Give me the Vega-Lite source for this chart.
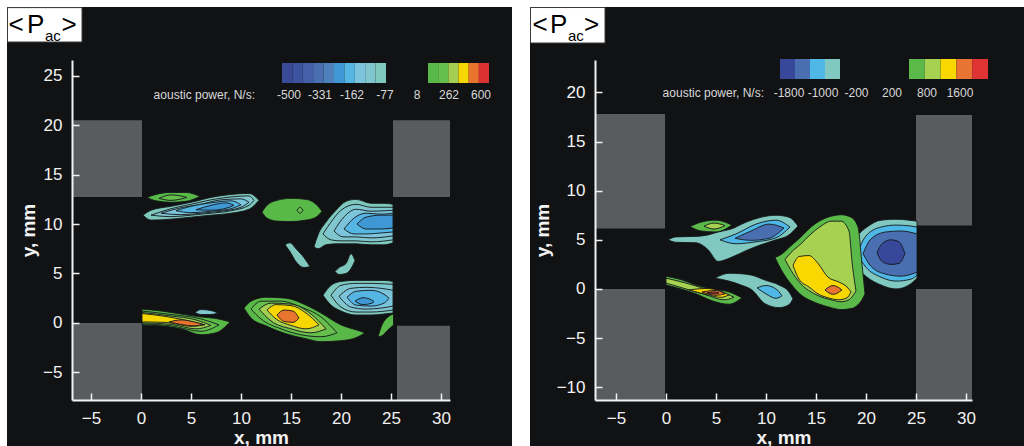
{
"$schema":"https://vega.github.io/schema/vega-lite/v6.json",
"padding":{"left":7,"top":7,"right":0,"bottom":0},
"background":"white",
"datasets":{
"L":[
{"k":"w","x":-8,"x2":0.1,"lo":12.75,"hi":20.5},
{"k":"w","x":-8,"x2":0.1,"lo":-10,"hi":0},
{"k":"w","x":25.2,"x2":32,"lo":12.75,"hi":20.5},
{"k":"w","x":25.6,"x2":32,"lo":-10,"hi":-0.3},
{"k":"c","b":10,"v":50,"x":0.6,"lo":12.7,"hi":12.7},{"k":"c","b":10,"v":50,"x":1.5,"lo":12.35,"hi":13.0},{"k":"c","b":10,"v":50,"x":3,"lo":12.2,"hi":13.2},{"k":"c","b":10,"v":50,"x":4.5,"lo":12.3,"hi":13.2},{"k":"c","b":10,"v":50,"x":5.9,"lo":12.8,"hi":12.8},
{"k":"c","b":11,"v":150,"x":1.8,"lo":12.6,"hi":12.6},{"k":"c","b":11,"v":150,"x":3,"lo":12.4,"hi":12.95},{"k":"c","b":11,"v":150,"x":4.6,"lo":12.7,"hi":12.7},
{"k":"c","b":12,"v":-50,"x":0.2,"lo":10.9,"hi":10.9},{"k":"c","b":12,"v":-50,"x":1,"lo":10.4,"hi":11.4},{"k":"c","b":12,"v":-50,"x":3,"lo":10.5,"hi":11.8},{"k":"c","b":12,"v":-50,"x":5,"lo":10.7,"hi":12.2},{"k":"c","b":12,"v":-50,"x":7,"lo":10.9,"hi":12.7},{"k":"c","b":12,"v":-50,"x":9,"lo":11.1,"hi":13.0},{"k":"c","b":12,"v":-50,"x":10.8,"lo":11.5,"hi":13.1},{"k":"c","b":12,"v":-50,"x":11.8,"lo":12.4,"hi":12.4},
{"k":"c","b":13,"v":-100,"x":1,"lo":10.9,"hi":10.9},{"k":"c","b":13,"v":-100,"x":3,"lo":10.75,"hi":11.55},{"k":"c","b":13,"v":-100,"x":5,"lo":10.9,"hi":12.0},{"k":"c","b":13,"v":-100,"x":7,"lo":11.1,"hi":12.45},{"k":"c","b":13,"v":-100,"x":9,"lo":11.35,"hi":12.75},{"k":"c","b":13,"v":-100,"x":10.8,"lo":11.9,"hi":12.85},{"k":"c","b":13,"v":-100,"x":11.3,"lo":12.4,"hi":12.4},
{"k":"c","b":14,"v":-150,"x":2,"lo":11.1,"hi":11.1},{"k":"c","b":14,"v":-150,"x":4,"lo":10.95,"hi":11.65},{"k":"c","b":14,"v":-150,"x":6,"lo":11.1,"hi":12.0},{"k":"c","b":14,"v":-150,"x":8,"lo":11.3,"hi":12.45},{"k":"c","b":14,"v":-150,"x":10,"lo":11.7,"hi":12.55},{"k":"c","b":14,"v":-150,"x":10.8,"lo":12.2,"hi":12.2},
{"k":"c","b":15,"v":-200,"x":3.5,"lo":11.35,"hi":11.35},{"k":"c","b":15,"v":-200,"x":5,"lo":11.15,"hi":11.8},{"k":"c","b":15,"v":-200,"x":7,"lo":11.3,"hi":12.15},{"k":"c","b":15,"v":-200,"x":9,"lo":11.55,"hi":12.35},{"k":"c","b":15,"v":-200,"x":10,"lo":11.95,"hi":11.95},
{"k":"c","b":16,"v":-250,"x":5.5,"lo":11.45,"hi":11.45},{"k":"c","b":16,"v":-250,"x":7,"lo":11.4,"hi":11.9},{"k":"c","b":16,"v":-250,"x":8.5,"lo":11.6,"hi":12.15},{"k":"c","b":16,"v":-250,"x":9.3,"lo":11.9,"hi":11.9},
{"k":"c","b":17,"v":50,"x":12.1,"lo":11.2,"hi":11.2},{"k":"c","b":17,"v":50,"x":12.6,"lo":10.6,"hi":11.9},{"k":"c","b":17,"v":50,"x":13.6,"lo":10.3,"hi":12.4},{"k":"c","b":17,"v":50,"x":15,"lo":10.25,"hi":12.6},{"k":"c","b":17,"v":50,"x":16.5,"lo":10.4,"hi":12.5},{"k":"c","b":17,"v":50,"x":17.5,"lo":10.7,"hi":12.0},{"k":"c","b":17,"v":50,"x":18.1,"lo":11.3,"hi":11.3},
{"k":"c","b":18,"v":150,"x":15.6,"lo":11.4,"hi":11.4},{"k":"c","b":18,"v":150,"x":15.9,"lo":11.1,"hi":11.7},{"k":"c","b":18,"v":150,"x":16.2,"lo":11.4,"hi":11.4},
{"k":"c","b":19,"v":-50,"x":17.3,"lo":7.7,"hi":7.7},{"k":"c","b":19,"v":-50,"x":17.7,"lo":7.5,"hi":8.9},{"k":"c","b":19,"v":-50,"x":18.5,"lo":7.9,"hi":10.2},{"k":"c","b":19,"v":-50,"x":19.5,"lo":8.0,"hi":11.4},{"k":"c","b":19,"v":-50,"x":20.5,"lo":8.0,"hi":12.3},{"k":"c","b":19,"v":-50,"x":21.5,"lo":8.0,"hi":12.5},{"k":"c","b":19,"v":-50,"x":23,"lo":7.9,"hi":12.1},{"k":"c","b":19,"v":-50,"x":24.3,"lo":7.9,"hi":12.1},{"k":"c","b":19,"v":-50,"x":25.2,"lo":8.1,"hi":12.0},
{"k":"c","b":20,"v":-100,"x":18.2,"lo":9.0,"hi":9.0},{"k":"c","b":20,"v":-100,"x":19,"lo":8.4,"hi":10.2},{"k":"c","b":20,"v":-100,"x":20,"lo":8.3,"hi":11.4},{"k":"c","b":20,"v":-100,"x":21.5,"lo":8.3,"hi":12.0},{"k":"c","b":20,"v":-100,"x":23,"lo":8.2,"hi":11.7},{"k":"c","b":20,"v":-100,"x":25.2,"lo":8.4,"hi":11.7},
{"k":"c","b":21,"v":-150,"x":19.3,"lo":9.3,"hi":9.3},{"k":"c","b":21,"v":-150,"x":20.2,"lo":8.7,"hi":10.6},{"k":"c","b":21,"v":-150,"x":21.5,"lo":8.7,"hi":11.5},{"k":"c","b":21,"v":-150,"x":23,"lo":8.6,"hi":11.3},{"k":"c","b":21,"v":-150,"x":25.2,"lo":8.8,"hi":11.4},
{"k":"c","b":22,"v":-200,"x":20.3,"lo":9.5,"hi":9.5},{"k":"c","b":22,"v":-200,"x":21.3,"lo":9.0,"hi":10.6},{"k":"c","b":22,"v":-200,"x":22.5,"lo":9.0,"hi":11.1},{"k":"c","b":22,"v":-200,"x":24,"lo":9.1,"hi":11.0},{"k":"c","b":22,"v":-200,"x":25.2,"lo":9.2,"hi":11.1},
{"k":"c","b":23,"v":-250,"x":21.6,"lo":10.0,"hi":10.0},{"k":"c","b":23,"v":-250,"x":22.5,"lo":9.5,"hi":10.7},{"k":"c","b":23,"v":-250,"x":24,"lo":9.5,"hi":10.9},{"k":"c","b":23,"v":-250,"x":25.2,"lo":9.6,"hi":10.9},
{"k":"c","b":24,"v":-50,"x":14.4,"lo":7.9,"hi":7.9},{"k":"c","b":24,"v":-50,"x":14.9,"lo":7.2,"hi":8.1},{"k":"c","b":24,"v":-50,"x":15.5,"lo":6.2,"hi":7.5},{"k":"c","b":24,"v":-50,"x":16.3,"lo":5.6,"hi":6.6},{"k":"c","b":24,"v":-50,"x":16.9,"lo":5.7,"hi":5.7},
{"k":"c","b":25,"v":-50,"x":19.4,"lo":5.2,"hi":5.2},{"k":"c","b":25,"v":-50,"x":19.8,"lo":4.9,"hi":5.6},{"k":"c","b":25,"v":-50,"x":20.5,"lo":5.0,"hi":6.0},{"k":"c","b":25,"v":-50,"x":21.0,"lo":5.5,"hi":7.0},{"k":"c","b":25,"v":-50,"x":21.4,"lo":6.3,"hi":6.3},
{"k":"c","b":26,"v":-100,"x":5.4,"lo":1.05,"hi":1.05},{"k":"c","b":26,"v":-100,"x":6,"lo":0.85,"hi":1.35},{"k":"c","b":26,"v":-100,"x":7,"lo":0.85,"hi":1.25},{"k":"c","b":26,"v":-100,"x":7.7,"lo":1.0,"hi":1.0},
{"k":"c","b":27,"v":-50,"x":18.2,"lo":2.8,"hi":2.8},{"k":"c","b":27,"v":-50,"x":19,"lo":1.8,"hi":3.8},{"k":"c","b":27,"v":-50,"x":20,"lo":1.2,"hi":4.2},{"k":"c","b":27,"v":-50,"x":21.5,"lo":0.8,"hi":4.3},{"k":"c","b":27,"v":-50,"x":23,"lo":0.8,"hi":4.3},{"k":"c","b":27,"v":-50,"x":24.3,"lo":0.9,"hi":4.3},{"k":"c","b":27,"v":-50,"x":25.2,"lo":1.0,"hi":4.2},
{"k":"c","b":28,"v":-100,"x":19,"lo":2.8,"hi":2.8},{"k":"c","b":28,"v":-100,"x":20,"lo":1.6,"hi":3.8},{"k":"c","b":28,"v":-100,"x":21.5,"lo":1.1,"hi":4.0},{"k":"c","b":28,"v":-100,"x":23,"lo":1.1,"hi":4.0},{"k":"c","b":28,"v":-100,"x":25.2,"lo":1.3,"hi":3.9},
{"k":"c","b":29,"v":-150,"x":19.8,"lo":2.7,"hi":2.7},{"k":"c","b":29,"v":-150,"x":21,"lo":1.6,"hi":3.5},{"k":"c","b":29,"v":-150,"x":22.5,"lo":1.4,"hi":3.6},{"k":"c","b":29,"v":-150,"x":24,"lo":1.5,"hi":3.5},{"k":"c","b":29,"v":-150,"x":25.2,"lo":1.7,"hi":3.3},
{"k":"c","b":30,"v":-200,"x":20.6,"lo":2.6,"hi":2.6},{"k":"c","b":30,"v":-200,"x":21.5,"lo":1.8,"hi":3.2},{"k":"c","b":30,"v":-200,"x":23,"lo":1.7,"hi":3.3},{"k":"c","b":30,"v":-200,"x":24.3,"lo":2.0,"hi":2.9},{"k":"c","b":30,"v":-200,"x":24.8,"lo":2.5,"hi":2.5},
{"k":"c","b":31,"v":-250,"x":21.4,"lo":2.2,"hi":2.2},{"k":"c","b":31,"v":-250,"x":22.2,"lo":1.85,"hi":2.55},{"k":"c","b":31,"v":-250,"x":23.1,"lo":2.0,"hi":2.3},{"k":"c","b":31,"v":-250,"x":23.3,"lo":2.15,"hi":2.15},
{"k":"c","b":32,"v":50,"x":10.3,"lo":1.5,"hi":1.5},{"k":"c","b":32,"v":50,"x":11,"lo":0.5,"hi":2.2},{"k":"c","b":32,"v":50,"x":12.5,"lo":-0.3,"hi":2.6},{"k":"c","b":32,"v":50,"x":14.5,"lo":-1.1,"hi":2.5},{"k":"c","b":32,"v":50,"x":16.5,"lo":-1.6,"hi":1.8},{"k":"c","b":32,"v":50,"x":18,"lo":-1.9,"hi":1.0},{"k":"c","b":32,"v":50,"x":20,"lo":-1.8,"hi":-0.2},{"k":"c","b":32,"v":50,"x":21.5,"lo":-1.5,"hi":-0.7},{"k":"c","b":32,"v":50,"x":22.4,"lo":-1.0,"hi":-1.0},
{"k":"c","b":33,"v":150,"x":11,"lo":1.4,"hi":1.4},{"k":"c","b":33,"v":150,"x":12,"lo":0.4,"hi":2.2},{"k":"c","b":33,"v":150,"x":14,"lo":-0.6,"hi":2.2},{"k":"c","b":33,"v":150,"x":16,"lo":-1.2,"hi":1.6},{"k":"c","b":33,"v":150,"x":18,"lo":-1.4,"hi":0.6},{"k":"c","b":33,"v":150,"x":19.6,"lo":-1.0,"hi":-1.0},
{"k":"c","b":34,"v":250,"x":11.8,"lo":1.4,"hi":1.4},{"k":"c","b":34,"v":250,"x":13,"lo":0.2,"hi":2.0},{"k":"c","b":34,"v":250,"x":15,"lo":-0.6,"hi":1.9},{"k":"c","b":34,"v":250,"x":17,"lo":-1.0,"hi":0.9},{"k":"c","b":34,"v":250,"x":18.5,"lo":-0.6,"hi":-0.6},
{"k":"c","b":35,"v":350,"x":12.6,"lo":1.3,"hi":1.3},{"k":"c","b":35,"v":350,"x":13.5,"lo":0.4,"hi":1.85},{"k":"c","b":35,"v":350,"x":15,"lo":-0.25,"hi":1.75},{"k":"c","b":35,"v":350,"x":16.5,"lo":-0.6,"hi":1.0},{"k":"c","b":35,"v":350,"x":17.8,"lo":-0.2,"hi":-0.2},
{"k":"c","b":36,"v":450,"x":13.6,"lo":0.8,"hi":0.8},{"k":"c","b":36,"v":450,"x":14.3,"lo":0.15,"hi":1.3},{"k":"c","b":36,"v":450,"x":15.2,"lo":0.05,"hi":1.2},{"k":"c","b":36,"v":450,"x":15.8,"lo":0.5,"hi":0.5},
{"k":"c","b":37,"v":50,"x":0.1,"lo":-0.2,"hi":1.4},{"k":"c","b":37,"v":50,"x":2,"lo":-0.3,"hi":1.2},{"k":"c","b":37,"v":50,"x":4,"lo":-0.6,"hi":0.9},{"k":"c","b":37,"v":50,"x":6,"lo":-1.2,"hi":0.6},{"k":"c","b":37,"v":50,"x":7.5,"lo":-1.0,"hi":0.45},{"k":"c","b":37,"v":50,"x":8.9,"lo":0.1,"hi":0.1},
{"k":"c","b":38,"v":150,"x":0.1,"lo":-0.1,"hi":1.2},{"k":"c","b":38,"v":150,"x":3,"lo":-0.3,"hi":0.85},{"k":"c","b":38,"v":150,"x":6,"lo":-0.85,"hi":0.4},{"k":"c","b":38,"v":150,"x":7.8,"lo":-0.2,"hi":-0.2},
{"k":"c","b":39,"v":250,"x":0.1,"lo":0.0,"hi":1.05},{"k":"c","b":39,"v":250,"x":3,"lo":-0.15,"hi":0.7},{"k":"c","b":39,"v":250,"x":5.5,"lo":-0.6,"hi":0.3},{"k":"c","b":39,"v":250,"x":7,"lo":-0.25,"hi":-0.25},
{"k":"c","b":40,"v":350,"x":0.1,"lo":0.1,"hi":0.95},{"k":"c","b":40,"v":350,"x":2.5,"lo":0.05,"hi":0.65},{"k":"c","b":40,"v":350,"x":5,"lo":-0.35,"hi":0.15},{"k":"c","b":40,"v":350,"x":6.4,"lo":-0.2,"hi":-0.2},
{"k":"c","b":41,"v":450,"x":2.8,"lo":0.1,"hi":0.1},{"k":"c","b":41,"v":450,"x":4,"lo":-0.15,"hi":0.3},{"k":"c","b":41,"v":450,"x":5.3,"lo":-0.3,"hi":0.1},{"k":"c","b":41,"v":450,"x":6.2,"lo":-0.15,"hi":-0.15},
{"k":"c","b":42,"v":50,"x":23.7,"lo":-1.4,"hi":-1.4},{"k":"c","b":42,"v":50,"x":24.1,"lo":-1.3,"hi":-0.2},{"k":"c","b":42,"v":50,"x":24.7,"lo":-0.7,"hi":0.6},{"k":"c","b":42,"v":50,"x":25.25,"lo":-0.2,"hi":0.9}
],
"R":[
{"k":"w","x":-8,"x2":-0.1,"lo":6.15,"hi":17.8},
{"k":"w","x":-8,"x2":-0.1,"lo":-13,"hi":0},
{"k":"w","x":25.0,"x2":32,"lo":6.45,"hi":17.7},
{"k":"w","x":25.0,"x2":32,"lo":-13,"hi":0},
{"k":"c","b":10,"v":400,"x":2.4,"lo":6.35,"hi":6.35},{"k":"c","b":10,"v":400,"x":3.5,"lo":5.9,"hi":6.8},{"k":"c","b":10,"v":400,"x":5,"lo":5.8,"hi":7.0},{"k":"c","b":10,"v":400,"x":6.6,"lo":6.5,"hi":6.5},
{"k":"c","b":11,"v":800,"x":3.8,"lo":6.4,"hi":6.4},{"k":"c","b":11,"v":800,"x":4.8,"lo":6.1,"hi":6.7},{"k":"c","b":11,"v":800,"x":5.9,"lo":6.45,"hi":6.45},
{"k":"c","b":12,"v":-600,"x":0.2,"lo":5.0,"hi":5.0},{"k":"c","b":12,"v":-600,"x":1,"lo":4.75,"hi":5.3},{"k":"c","b":12,"v":-600,"x":3,"lo":4.7,"hi":5.35},{"k":"c","b":12,"v":-600,"x":4.2,"lo":4.0,"hi":5.5},{"k":"c","b":12,"v":-600,"x":5.2,"lo":2.8,"hi":5.8},{"k":"c","b":12,"v":-600,"x":6.5,"lo":3.2,"hi":6.1},{"k":"c","b":12,"v":-600,"x":8,"lo":3.9,"hi":6.8},{"k":"c","b":12,"v":-600,"x":9.5,"lo":4.5,"hi":7.3},{"k":"c","b":12,"v":-600,"x":11,"lo":5.0,"hi":7.5},{"k":"c","b":12,"v":-600,"x":12.3,"lo":5.5,"hi":7.3},{"k":"c","b":12,"v":-600,"x":13.2,"lo":6.4,"hi":6.4},
{"k":"c","b":13,"v":-1000,"x":5.4,"lo":5.0,"hi":5.0},{"k":"c","b":13,"v":-1000,"x":7,"lo":4.6,"hi":5.6},{"k":"c","b":13,"v":-1000,"x":9,"lo":4.8,"hi":6.6},{"k":"c","b":13,"v":-1000,"x":11,"lo":5.2,"hi":7.0},{"k":"c","b":13,"v":-1000,"x":12.4,"lo":6.3,"hi":6.3},
{"k":"c","b":14,"v":-1400,"x":6.9,"lo":5.15,"hi":5.15},{"k":"c","b":14,"v":-1400,"x":8.5,"lo":4.95,"hi":5.9},{"k":"c","b":14,"v":-1400,"x":10.3,"lo":5.15,"hi":6.6},{"k":"c","b":14,"v":-1400,"x":11.8,"lo":6.2,"hi":6.2},
{"k":"c","b":15,"v":-600,"x":4.9,"lo":1.1,"hi":1.1},{"k":"c","b":15,"v":-600,"x":6.3,"lo":0.8,"hi":1.6},{"k":"c","b":15,"v":-600,"x":7.5,"lo":0.4,"hi":1.55},{"k":"c","b":15,"v":-600,"x":8.6,"lo":-0.1,"hi":1.4},{"k":"c","b":15,"v":-600,"x":9.9,"lo":-1.5,"hi":0.9},{"k":"c","b":15,"v":-600,"x":11.3,"lo":-1.9,"hi":0.4},{"k":"c","b":15,"v":-600,"x":12.3,"lo":-1.6,"hi":-0.3},{"k":"c","b":15,"v":-600,"x":12.7,"lo":-1.0,"hi":-1.0},
{"k":"c","b":16,"v":-1000,"x":9.1,"lo":0.1,"hi":0.1},{"k":"c","b":16,"v":-1000,"x":10,"lo":-0.5,"hi":0.35},{"k":"c","b":16,"v":-1000,"x":11,"lo":-0.95,"hi":0.0},{"k":"c","b":16,"v":-1000,"x":11.6,"lo":-0.7,"hi":-0.7},
{"k":"c","b":17,"v":-600,"x":18.2,"lo":3.6,"hi":3.6},{"k":"c","b":17,"v":-600,"x":19,"lo":2.3,"hi":5.2},{"k":"c","b":17,"v":-600,"x":20.1,"lo":1.2,"hi":6.3},{"k":"c","b":17,"v":-600,"x":21.5,"lo":0.4,"hi":7.0},{"k":"c","b":17,"v":-600,"x":23,"lo":0.0,"hi":7.1},{"k":"c","b":17,"v":-600,"x":24.3,"lo":0.4,"hi":7.0},{"k":"c","b":17,"v":-600,"x":25.1,"lo":1.1,"hi":6.9},
{"k":"c","b":18,"v":-1000,"x":19.1,"lo":3.6,"hi":3.6},{"k":"c","b":18,"v":-1000,"x":20,"lo":2.2,"hi":5.4},{"k":"c","b":18,"v":-1000,"x":21.5,"lo":1.2,"hi":6.3},{"k":"c","b":18,"v":-1000,"x":23,"lo":0.8,"hi":6.5},{"k":"c","b":18,"v":-1000,"x":24.5,"lo":1.0,"hi":6.4},{"k":"c","b":18,"v":-1000,"x":25.1,"lo":1.4,"hi":6.3},
{"k":"c","b":19,"v":-1400,"x":19.7,"lo":3.6,"hi":3.6},{"k":"c","b":19,"v":-1400,"x":20.5,"lo":2.3,"hi":5.1},{"k":"c","b":19,"v":-1400,"x":22,"lo":1.5,"hi":5.8},{"k":"c","b":19,"v":-1400,"x":23.5,"lo":1.3,"hi":5.9},{"k":"c","b":19,"v":-1400,"x":25.1,"lo":1.7,"hi":5.6},
{"k":"c","b":20,"v":-1800,"x":21.1,"lo":3.7,"hi":3.7},{"k":"c","b":20,"v":-1800,"x":21.6,"lo":2.8,"hi":4.6},{"k":"c","b":20,"v":-1800,"x":22.5,"lo":2.5,"hi":5.0},{"k":"c","b":20,"v":-1800,"x":23.3,"lo":2.6,"hi":4.8},{"k":"c","b":20,"v":-1800,"x":23.9,"lo":3.6,"hi":3.6},
{"k":"c","b":21,"v":400,"x":10.9,"lo":3.2,"hi":3.2},{"k":"c","b":21,"v":400,"x":11.5,"lo":2.0,"hi":3.5},{"k":"c","b":21,"v":400,"x":12.5,"lo":0.5,"hi":4.4},{"k":"c","b":21,"v":400,"x":13.5,"lo":-0.6,"hi":5.3},{"k":"c","b":21,"v":400,"x":14.5,"lo":-1.2,"hi":6.3},{"k":"c","b":21,"v":400,"x":15.5,"lo":-1.6,"hi":7.0},{"k":"c","b":21,"v":400,"x":16.5,"lo":-1.9,"hi":7.4},{"k":"c","b":21,"v":400,"x":17.5,"lo":-2.1,"hi":7.55},{"k":"c","b":21,"v":400,"x":18.5,"lo":-2.0,"hi":7.3},{"k":"c","b":21,"v":400,"x":19.2,"lo":-1.6,"hi":6.3},{"k":"c","b":21,"v":400,"x":19.6,"lo":-1.1,"hi":2.5},{"k":"c","b":21,"v":400,"x":19.9,"lo":-0.5,"hi":-0.5},
{"k":"c","b":22,"v":800,"x":11.9,"lo":3.0,"hi":3.0},{"k":"c","b":22,"v":800,"x":12.5,"lo":1.9,"hi":3.7},{"k":"c","b":22,"v":800,"x":13.5,"lo":0.5,"hi":4.6},{"k":"c","b":22,"v":800,"x":14.5,"lo":-0.3,"hi":5.6},{"k":"c","b":22,"v":800,"x":15.5,"lo":-0.8,"hi":6.4},{"k":"c","b":22,"v":800,"x":16.5,"lo":-1.1,"hi":6.9},{"k":"c","b":22,"v":800,"x":17.5,"lo":-1.3,"hi":6.9},{"k":"c","b":22,"v":800,"x":18.3,"lo":-1.1,"hi":5.9},{"k":"c","b":22,"v":800,"x":18.6,"lo":-0.8,"hi":2.8},{"k":"c","b":22,"v":800,"x":19.0,"lo":-0.2,"hi":-0.2},
{"k":"c","b":23,"v":1200,"x":12.7,"lo":2.4,"hi":2.4},{"k":"c","b":23,"v":1200,"x":13.3,"lo":1.0,"hi":3.3},{"k":"c","b":23,"v":1200,"x":14.3,"lo":0.2,"hi":3.4},{"k":"c","b":23,"v":1200,"x":15.2,"lo":-0.5,"hi":2.6},{"k":"c","b":23,"v":1200,"x":16.2,"lo":-0.9,"hi":1.2},{"k":"c","b":23,"v":1200,"x":17.3,"lo":-1.1,"hi":0.7},{"k":"c","b":23,"v":1200,"x":18.1,"lo":-0.9,"hi":0.2},{"k":"c","b":23,"v":1200,"x":18.5,"lo":-0.3,"hi":-0.3},
{"k":"c","b":24,"v":1600,"x":15.9,"lo":-0.1,"hi":-0.1},{"k":"c","b":24,"v":1600,"x":16.7,"lo":-0.55,"hi":0.35},{"k":"c","b":24,"v":1600,"x":17.6,"lo":-0.1,"hi":-0.1},
{"k":"c","b":25,"v":400,"x":0,"lo":0.4,"hi":1.3},{"k":"c","b":25,"v":400,"x":1.5,"lo":0.0,"hi":0.95},{"k":"c","b":25,"v":400,"x":3,"lo":-0.5,"hi":0.4},{"k":"c","b":25,"v":400,"x":4.6,"lo":-1.2,"hi":0.0},{"k":"c","b":25,"v":400,"x":6.3,"lo":-1.55,"hi":-0.3},{"k":"c","b":25,"v":400,"x":7.6,"lo":-0.9,"hi":-0.9},
{"k":"c","b":26,"v":800,"x":0,"lo":0.6,"hi":1.1},{"k":"c","b":26,"v":800,"x":2,"lo":0.0,"hi":0.6},{"k":"c","b":26,"v":800,"x":4,"lo":-0.6,"hi":0.0},{"k":"c","b":26,"v":800,"x":5.8,"lo":-1.1,"hi":-0.4},{"k":"c","b":26,"v":800,"x":6.8,"lo":-0.85,"hi":-0.85},
{"k":"c","b":27,"v":1200,"x":2.3,"lo":-0.1,"hi":-0.1},{"k":"c","b":27,"v":1200,"x":4,"lo":-0.55,"hi":0.05},{"k":"c","b":27,"v":1200,"x":5.5,"lo":-0.85,"hi":-0.25},{"k":"c","b":27,"v":1200,"x":6.3,"lo":-0.6,"hi":-0.6},
{"k":"c","b":28,"v":1600,"x":3.6,"lo":-0.3,"hi":-0.3},{"k":"c","b":28,"v":1600,"x":5,"lo":-0.65,"hi":-0.15},{"k":"c","b":28,"v":1600,"x":5.9,"lo":-0.5,"hi":-0.5},
{"k":"c","b":29,"v":2000,"x":4.1,"lo":-0.4,"hi":-0.4},{"k":"c","b":29,"v":2000,"x":4.8,"lo":-0.5,"hi":-0.3},{"k":"c","b":29,"v":2000,"x":5.3,"lo":-0.42,"hi":-0.42}
]
},
"hconcat":[
{
"width":378,"height":340,
"resolve":{"scale":{"color":"independent"}},
"layer":[
{"data":{"values":[{}]},"mark":{"type":"rect","color":"#111214","clip":false},"encoding":{
"x":{"datum":-13.4,"type":"quantitative","scale":{"domain":[-6.9,30.9],"nice":false,"zero":false},
 "axis":{"title":"x, mm","zindex":2,"ticks":true,"values":[-5,0,5,10,15,20,25,30],"tickSize":-7,"labelPadding":17,"titlePadding":2}},
"x2":{"datum":37.1},
"y":{"datum":31.96,"type":"quantitative","scale":{"domain":[-7.8,26.6],"nice":false,"zero":false},
 "axis":{"title":"y, mm","zindex":2,"ticks":true,"values":[-5,0,5,10,15,20,25],"tickSize":-7,"labelPadding":17,"titlePadding":4}},
"y2":{"datum":-12.5}}},
{"data":{"name":"L"},"transform":[{"filter":"datum.k==='w'"}],"mark":{"type":"rect","color":"#595c5f","clip":true},"encoding":{
"x":{"field":"x","type":"quantitative"},"x2":{"field":"x2"},"y":{"field":"lo","type":"quantitative"},"y2":{"field":"hi"}}},
{"data":{"name":"L"},"transform":[{"filter":"datum.k==='c' && datum.v<0"}],"mark":{"type":"area","interpolate":"monotone","stroke":"#15181a","strokeWidth":0.9,"clip":true},
 "encoding":{"x":{"field":"x","type":"quantitative"},"y":{"field":"lo","type":"quantitative"},"y2":{"field":"hi"},"detail":{"field":"b","type":"nominal"},
 "color":{"field":"v","type":"quantitative","scale":{"type":"threshold","domain":[-475,-425,-375,-325,-275,-225,-175,-125,-75],"range":["#3b4a96","#3d539e","#4461a8","#4a6fb0","#4e80bc","#3f97d4","#55b5e3","#7cc4dc","#80c6cf","#7fc8bd"]},
 "legend":{"type":"gradient","orient":"none","direction":"horizontal","legendX":210,"legendY":3,"gradientLength":104,"gradientThickness":20,"gradientStrokeWidth":0,"title":null,"labelExpr":"''","padding":0}}}},
{"data":{"name":"L"},"transform":[{"filter":"datum.k==='c' && datum.v>0"}],"mark":{"type":"area","interpolate":"monotone","stroke":"#15181a","strokeWidth":0.9,"clip":true},
 "encoding":{"x":{"field":"x","type":"quantitative"},"y":{"field":"lo","type":"quantitative"},"y2":{"field":"hi"},"detail":{"field":"b","type":"nominal"},
 "color":{"field":"v","type":"quantitative","scale":{"type":"threshold","domain":[100,200,300,400,500],"range":["#58b848","#66be4c","#a3d052","#f6d800","#e9742e","#dd3131"]},
 "legend":{"type":"gradient","orient":"none","direction":"horizontal","legendX":356,"legendY":3,"gradientLength":61,"gradientThickness":20,"gradientStrokeWidth":0,"title":null,"labelExpr":"''","padding":0}}}},
{"data":{"values":[{}]},"mark":{"type":"rect","color":"#ffffff","stroke":"#3a3a3a","strokeWidth":1,"clip":false},"encoding":{"x":{"datum":-13.35,"type":"quantitative"},"x2":{"datum":-5.9},"y":{"datum":31.9,"type":"quantitative"},"y2":{"datum":28.42}}},
{"data":{"values":[{}]},"mark":{"type":"text","align":"left","fontSize":26,"color":"#000000"},"encoding":{"x":{"datum":-13.25,"type":"quantitative"},"y":{"datum":29.33,"type":"quantitative"},"text":{"value":"<"}}},
{"data":{"values":[{}]},"mark":{"type":"text","align":"left","fontSize":26,"color":"#000000"},"encoding":{"x":{"datum":-11.4,"type":"quantitative"},"y":{"datum":29.33,"type":"quantitative"},"text":{"value":"P"}}},
{"data":{"values":[{}]},"mark":{"type":"text","align":"left","fontSize":15,"color":"#000000"},"encoding":{"x":{"datum":-9.6,"type":"quantitative"},"y":{"datum":28.55,"type":"quantitative"},"text":{"value":"ac"}}},
{"data":{"values":[{}]},"mark":{"type":"text","align":"left","fontSize":26,"color":"#000000"},"encoding":{"x":{"datum":-7.95,"type":"quantitative"},"y":{"datum":29.33,"type":"quantitative"},"text":{"value":">"}}},
{"data":{"values":[{}]},"mark":{"type":"text","align":"right"},"encoding":{"x":{"datum":11.4,"type":"quantitative"},"y":{"datum":22.65,"type":"quantitative"},"text":{"value":"aoustic power, N/s:"}}},
{"data":{"values":[{}]},"mark":{"type":"text","align":"center"},"encoding":{"x":{"datum":14.8,"type":"quantitative"},"y":{"datum":22.65,"type":"quantitative"},"text":{"value":"-500"}}},
{"data":{"values":[{}]},"mark":{"type":"text","align":"center"},"encoding":{"x":{"datum":17.9,"type":"quantitative"},"y":{"datum":22.65,"type":"quantitative"},"text":{"value":"-331"}}},
{"data":{"values":[{}]},"mark":{"type":"text","align":"center"},"encoding":{"x":{"datum":21.1,"type":"quantitative"},"y":{"datum":22.65,"type":"quantitative"},"text":{"value":"-162"}}},
{"data":{"values":[{}]},"mark":{"type":"text","align":"center"},"encoding":{"x":{"datum":24.4,"type":"quantitative"},"y":{"datum":22.65,"type":"quantitative"},"text":{"value":"-77"}}},
{"data":{"values":[{}]},"mark":{"type":"text","align":"center"},"encoding":{"x":{"datum":27.6,"type":"quantitative"},"y":{"datum":22.65,"type":"quantitative"},"text":{"value":"8"}}},
{"data":{"values":[{}]},"mark":{"type":"text","align":"center"},"encoding":{"x":{"datum":30.8,"type":"quantitative"},"y":{"datum":22.65,"type":"quantitative"},"text":{"value":"262"}}},
{"data":{"values":[{}]},"mark":{"type":"text","align":"center"},"encoding":{"x":{"datum":34.0,"type":"quantitative"},"y":{"datum":22.65,"type":"quantitative"},"text":{"value":"600"}}}
]
},
{
"width":377,"height":340,
"resolve":{"scale":{"color":"independent"}},
"layer":[
{"data":{"values":[{}]},"mark":{"type":"rect","color":"#111214","clip":false},"encoding":{
"x":{"datum":-13.6,"type":"quantitative","scale":{"domain":[-7.1,30.6],"nice":false,"zero":false},
 "axis":{"title":"x, mm","zindex":2,"ticks":true,"values":[-5,0,5,10,15,20,25,30],"tickSize":-7,"labelPadding":17,"titlePadding":2}},
"x2":{"datum":35.8},
"y":{"datum":28.69,"type":"quantitative","scale":{"domain":[-11.3,23.3],"nice":false,"zero":false},
 "axis":{"title":"y, mm","zindex":2,"ticks":true,"values":[-10,-5,0,5,10,15,20],"tickSize":-7,"labelPadding":17,"titlePadding":4}},
"y2":{"datum":-16}}},
{"data":{"name":"R"},"transform":[{"filter":"datum.k==='w'"}],"mark":{"type":"rect","color":"#595c5f","clip":true},"encoding":{
"x":{"field":"x","type":"quantitative"},"x2":{"field":"x2"},"y":{"field":"lo","type":"quantitative"},"y2":{"field":"hi"}}},
{"data":{"name":"R"},"transform":[{"filter":"datum.k==='c' && datum.v<0"}],"mark":{"type":"area","interpolate":"monotone","stroke":"#15181a","strokeWidth":0.9,"clip":true},
 "encoding":{"x":{"field":"x","type":"quantitative"},"y":{"field":"lo","type":"quantitative"},"y2":{"field":"hi"},"detail":{"field":"b","type":"nominal"},
 "color":{"field":"v","type":"quantitative","scale":{"type":"threshold","domain":[-1600,-1200,-800],"range":["#37479a","#4a6fb0","#4fb8e6","#80c8c0"]},
 "legend":{"type":"gradient","orient":"none","direction":"horizontal","legendX":185,"legendY":-1,"gradientLength":60,"gradientThickness":20,"gradientStrokeWidth":0,"title":null,"labelExpr":"''","padding":0}}}},
{"data":{"name":"R"},"transform":[{"filter":"datum.k==='c' && datum.v>0"}],"mark":{"type":"area","interpolate":"monotone","stroke":"#15181a","strokeWidth":0.9,"clip":true},
 "encoding":{"x":{"field":"x","type":"quantitative"},"y":{"field":"lo","type":"quantitative"},"y2":{"field":"hi"},"detail":{"field":"b","type":"nominal"},
 "color":{"field":"v","type":"quantitative","scale":{"type":"threshold","domain":[600,1000,1400,1800],"range":["#5bb94a","#a6d151","#f8d800","#e87332","#e03434"]},
 "legend":{"type":"gradient","orient":"none","direction":"horizontal","legendX":314,"legendY":-1,"gradientLength":79,"gradientThickness":20,"gradientStrokeWidth":0,"title":null,"labelExpr":"''","padding":0}}}},
{"data":{"values":[{}]},"mark":{"type":"rect","color":"#ffffff","stroke":"#3a3a3a","strokeWidth":1,"clip":false},"encoding":{"x":{"datum":-13.55,"type":"quantitative"},"x2":{"datum":-6.1},"y":{"datum":28.64,"type":"quantitative"},"y2":{"datum":25.03}}},
{"data":{"values":[{}]},"mark":{"type":"text","align":"left","fontSize":26,"color":"#000000"},"encoding":{"x":{"datum":-13.35,"type":"quantitative"},"y":{"datum":26.05,"type":"quantitative"},"text":{"value":"<"}}},
{"data":{"values":[{}]},"mark":{"type":"text","align":"left","fontSize":26,"color":"#000000"},"encoding":{"x":{"datum":-11.6,"type":"quantitative"},"y":{"datum":26.05,"type":"quantitative"},"text":{"value":"P"}}},
{"data":{"values":[{}]},"mark":{"type":"text","align":"left","fontSize":15,"color":"#000000"},"encoding":{"x":{"datum":-9.8,"type":"quantitative"},"y":{"datum":25.25,"type":"quantitative"},"text":{"value":"ac"}}},
{"data":{"values":[{}]},"mark":{"type":"text","align":"left","fontSize":26,"color":"#000000"},"encoding":{"x":{"datum":-8.2,"type":"quantitative"},"y":{"datum":26.05,"type":"quantitative"},"text":{"value":">"}}},
{"data":{"values":[{}]},"mark":{"type":"text","align":"right"},"encoding":{"x":{"datum":9.8,"type":"quantitative"},"y":{"datum":19.53,"type":"quantitative"},"text":{"value":"aoustic power, N/s:"}}},
{"data":{"values":[{}]},"mark":{"type":"text","align":"center"},"encoding":{"x":{"datum":12.3,"type":"quantitative"},"y":{"datum":19.53,"type":"quantitative"},"text":{"value":"-1800"}}},
{"data":{"values":[{}]},"mark":{"type":"text","align":"center"},"encoding":{"x":{"datum":15.7,"type":"quantitative"},"y":{"datum":19.53,"type":"quantitative"},"text":{"value":"-1000"}}},
{"data":{"values":[{}]},"mark":{"type":"text","align":"center"},"encoding":{"x":{"datum":19.05,"type":"quantitative"},"y":{"datum":19.53,"type":"quantitative"},"text":{"value":"-200"}}},
{"data":{"values":[{}]},"mark":{"type":"text","align":"center"},"encoding":{"x":{"datum":22.6,"type":"quantitative"},"y":{"datum":19.53,"type":"quantitative"},"text":{"value":"200"}}},
{"data":{"values":[{}]},"mark":{"type":"text","align":"center"},"encoding":{"x":{"datum":26.1,"type":"quantitative"},"y":{"datum":19.53,"type":"quantitative"},"text":{"value":"800"}}},
{"data":{"values":[{}]},"mark":{"type":"text","align":"center"},"encoding":{"x":{"datum":29.4,"type":"quantitative"},"y":{"datum":19.53,"type":"quantitative"},"text":{"value":"1600"}}}
]
}
],
"spacing":145,
"bounds":"flush",
"resolve":{"scale":{"color":"independent"}},
"config":{
"view":{"stroke":null},
"axis":{"domainColor":"#f2f2f2","domainWidth":2,"tickColor":"#f2f2f2","tickWidth":1.5,"labelColor":"#f2f2f2","labelFont":"Liberation Sans","labelFontSize":17,"titleColor":"#f2f2f2","titleFont":"Liberation Sans","titleFontSize":19,"titleFontWeight":"bold","grid":false,"zindex":2,"labelFlush":false},
"text":{"font":"Liberation Sans","baseline":"alphabetic","fontSize":12,"color":"#d9d9d9"}
}
}
